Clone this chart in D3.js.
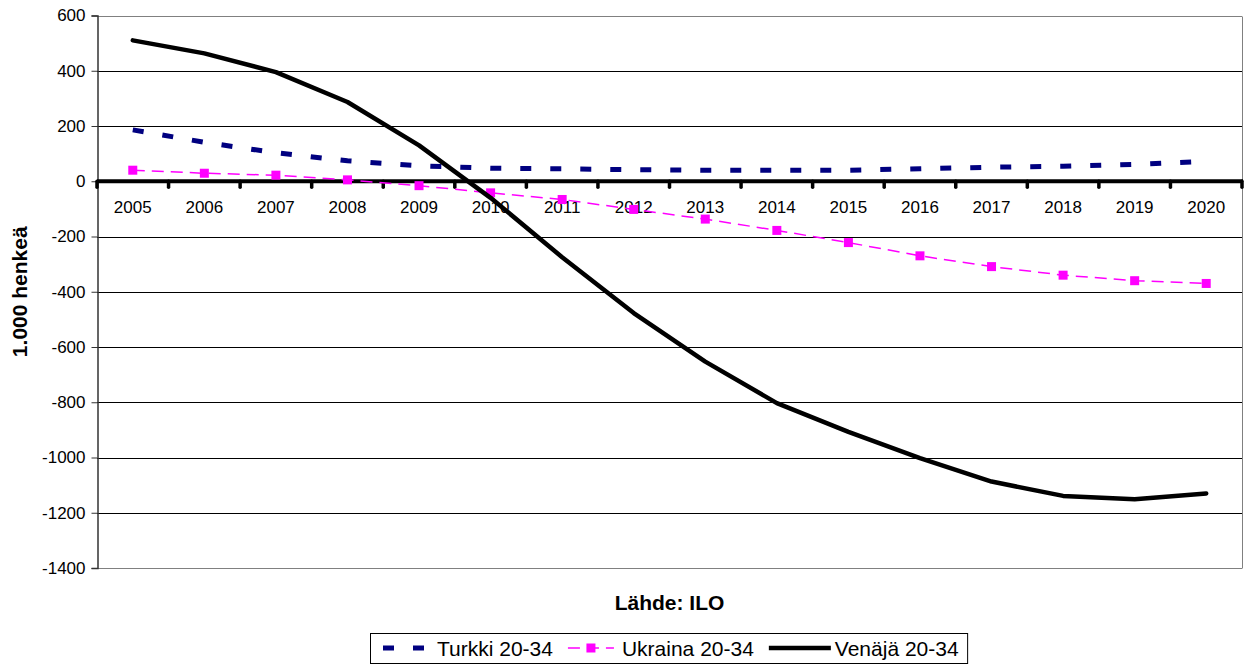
<!DOCTYPE html>
<meta charset="utf-8">
<style>
  html, body {
    margin: 0;
    padding: 0;
    background: #fff;
  }
  svg {
    display: block;
    font-family: Arial, "Liberation Sans", sans-serif;
  }
  .grid line {
    stroke-width: 1;
    shape-rendering: crispEdges;
  }
  .tick-label {
    font-size: 17px;
    fill: #000;
  }
</style>
<script src="https://cdn.jsdelivr.net/npm/d3@7/dist/d3.min.js"></script>
<body>
<div id="vis"></div>
<script>
  var years = ['2005', '2006', '2007', '2008', '2009', '2010', '2011', '2012',
               '2013', '2014', '2015', '2016', '2017', '2018', '2019', '2020'];
  var turkki = [186, 141, 103, 74, 56, 47, 45, 42, 40, 40, 40, 45, 51, 54, 61, 72];
  var ukraina = [40, 29, 22, 5, -16, -42, -66, -102, -137, -178, -222, -270, -309, -340, -360, -370];
  var venaja = [510, 463, 395, 287, 130, -60, -275, -477, -653, -803, -907, -1002, -1087, -1139, -1151, -1130];
  var yTicks = [600, 400, 200, 0, -200, -400, -600, -800, -1000, -1200, -1400];
  var seriesNames = ['Turkki 20-34', 'Ukraina 20-34', 'Venäjä 20-34'];

  var width = 1244, height = 664;
  var plotLeft = 97, plotRight = 1242, plotTop = 15.5, plotBottom = 568;

  var svg = d3.select('#vis').append('svg')
    .attr('width', width)
    .attr('height', height);

  var x = d3.scaleBand().domain(years).range([plotLeft, plotRight]);
  var y = d3.scaleLinear().domain([-1400, 600]).range([plotBottom, plotTop]);
  var cx = d => x(d) + x.bandwidth() / 2;

  // gridlines
  svg.append('g').attr('class', 'grid')
    .selectAll('line')
    .data(yTicks.filter(d => d != 0))
    .enter().append('line')
    .attr('x1', plotLeft)
    .attr('x2', plotRight)
    .attr('y1', d => Math.round(y(d)) + 0.5)
    .attr('y2', d => Math.round(y(d)) + 0.5)
    .style('stroke', d => (d == 600 || d == -1400) ? '#808080' : '#000');

  // plot border on the right
  svg.append('line')
    .attr('x1', plotRight + 0.5).attr('x2', plotRight + 0.5)
    .attr('y1', Math.round(y(600)) + 0.5).attr('y2', Math.round(y(-1400)) + 0.5)
    .style('stroke', '#808080');

  // y axis
  var yAxis = d3.axisLeft(y)
    .tickValues(yTicks)
    .tickFormat(d => String(d))
    .tickSize(6)
    .tickPadding(6);
  var yg = svg.append('g')
    .attr('transform', 'translate(' + (plotLeft + 0.5) + ',0)')
    .call(yAxis);
  yg.select('.domain').style('stroke', '#333').style('stroke-width', 1.5);
  yg.selectAll('.tick line').style('stroke', '#333');
  yg.selectAll('.tick text')
    .attr('class', 'tick-label')
    .style('font-size', '17px')
    .style('font-family', 'Arial, "Liberation Sans", sans-serif');

  // x axis at zero, thick, with tick marks between categories
  var y0 = y(0);
  svg.append('line')
    .attr('x1', plotLeft).attr('x2', plotRight + 1)
    .attr('y1', y0).attr('y2', y0)
    .style('stroke', '#000')
    .style('stroke-width', 4);

  var bounds = years.map(d => x(d)).concat([plotRight]);
  svg.append('g').selectAll('line')
    .data(bounds)
    .enter().append('line')
    .attr('x1', d => d).attr('x2', d => d)
    .attr('y1', y0).attr('y2', y0 + 6)
    .style('stroke', '#000')
    .style('stroke-width', 3.5)
    .style('stroke-linecap', 'round');

  svg.append('g').selectAll('text')
    .data(years)
    .enter().append('text')
    .attr('class', 'tick-label')
    .attr('x', cx)
    .attr('y', y0 + 32)
    .attr('text-anchor', 'middle')
    .text(d => d);

  // series
  var line = d3.line()
    .x((d, i) => cx(years[i]))
    .y(d => y(d));

  svg.append('path')
    .datum(turkki)
    .attr('d', line)
    .style('fill', 'none')
    .style('stroke', '#000080')
    .style('stroke-width', 5)
    .style('stroke-dasharray', '11,19');

  svg.append('path')
    .datum(ukraina)
    .attr('d', line)
    .style('fill', 'none')
    .style('stroke', '#ff00ff')
    .style('stroke-width', 1.5)
    .style('stroke-dasharray', '12,7');

  svg.append('g').selectAll('rect')
    .data(ukraina)
    .enter().append('rect')
    .attr('x', (d, i) => cx(years[i]) - 4.5)
    .attr('y', d => y(d) - 4.5)
    .attr('width', 9)
    .attr('height', 9)
    .style('fill', '#ff00ff');

  svg.append('path')
    .datum(venaja)
    .attr('d', line)
    .style('fill', 'none')
    .style('stroke', '#000')
    .style('stroke-width', 4.5)
    .style('stroke-linejoin', 'round')
    .style('stroke-linecap', 'round');

  // titles
  svg.append('text')
    .attr('transform', 'translate(27,' + ((plotTop + plotBottom) / 2) + ') rotate(-90)')
    .attr('text-anchor', 'middle')
    .style('font-size', '21px')
    .style('font-weight', 'bold')
    .text('1.000 henkeä');

  svg.append('text')
    .attr('x', (plotLeft + plotRight) / 2)
    .attr('y', 610)
    .attr('text-anchor', 'middle')
    .style('font-size', '21px')
    .style('font-weight', 'bold')
    .text('Lähde: ILO');

  // legend
  var legend = svg.append('g');
  var box = legend.append('rect')
    .attr('y', 633.5)
    .attr('height', 30)
    .style('fill', '#fff')
    .style('stroke', '#000')
    .style('stroke-width', 1);

  var styles = [
    {stroke: '#000080', w: 5, dash: '11,19', sym: 46},
    {stroke: '#ff00ff', w: 1.5, dash: '12,7', sym: 46, marker: true},
    {stroke: '#000', w: 4.5, dash: null, sym: 62}
  ];
  var lx = 383, ly = 648;
  seriesNames.forEach(function(name, i) {
    var s = styles[i];
    legend.append('line')
      .attr('x1', lx).attr('x2', lx + s.sym)
      .attr('y1', ly).attr('y2', ly)
      .style('stroke', s.stroke)
      .style('stroke-width', s.w)
      .style('stroke-dasharray', s.dash);
    if (s.marker) {
      legend.append('rect')
        .attr('x', lx + s.sym / 2 - 4.5).attr('y', ly - 4.5)
        .attr('width', 9).attr('height', 9)
        .style('fill', '#ff00ff');
    }
    var t = legend.append('text')
      .attr('x', lx + s.sym + (i == 2 ? 4 : 8))
      .attr('y', ly + 7.5)
      .style('font-size', '21px')
      .text(name);
    lx = lx + s.sym + (i == 2 ? 4 : 8) + t.node().getComputedTextLength() + (i == 2 ? 9 : 15);
  });
  box.attr('x', 370.5).attr('width', lx - 370.5);
</script>
</body>
